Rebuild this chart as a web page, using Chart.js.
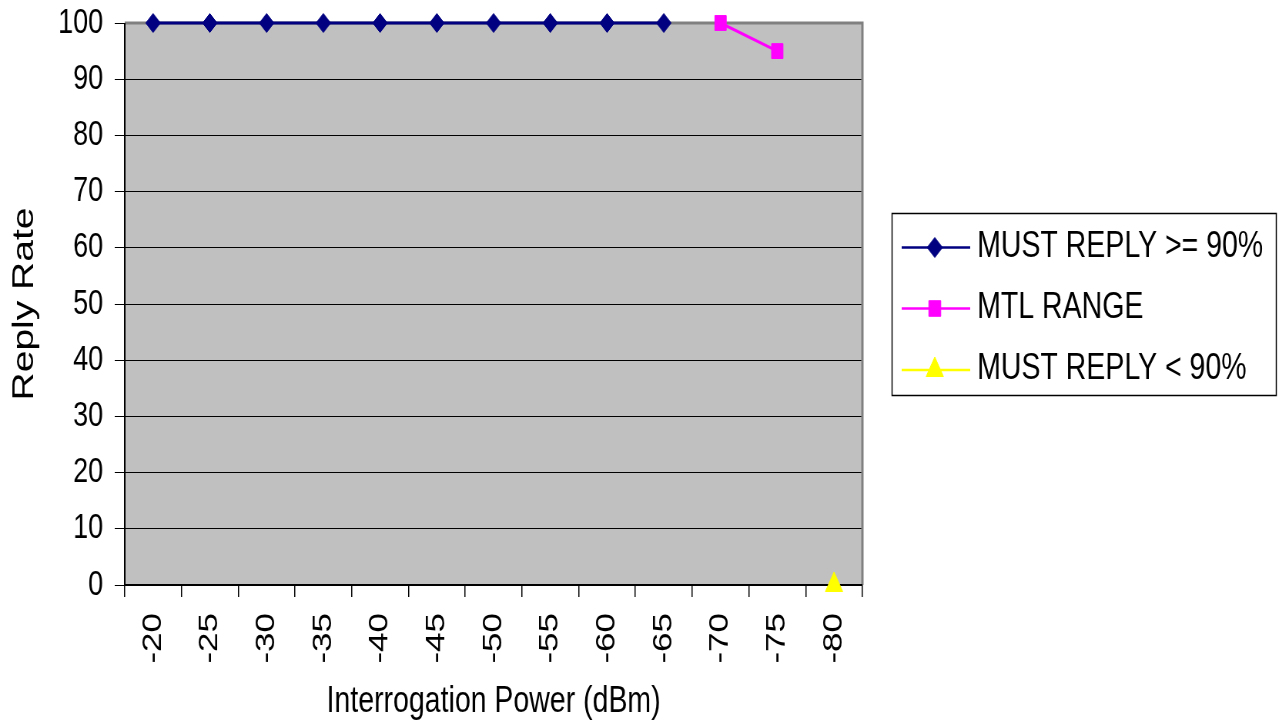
<!DOCTYPE html>
<html>
<head>
<meta charset="utf-8">
<script src="https://cdn.jsdelivr.net/npm/chart.js@4/dist/chart.umd.min.js"></script>
<style>
  html, body { margin: 0; padding: 0; background: #fff; overflow: hidden; width: 1280px; height: 727px; }
  /* the chart is laid out on a wider canvas and condensed horizontally */
  #wrap { position: absolute; left: 0; top: 0; width: 1662px; height: 727px;
          transform: scaleX(0.77); transform-origin: 0 0; }
</style>
</head>
<body>
<div id="wrap"><canvas id="c" width="1662" height="727"></canvas></div>
<script>
// Interrogation power levels (dBm)
const categories = ['-20', '-25', '-30', '-35', '-40', '-45', '-50', '-55', '-60', '-65', '-70', '-75', '-80'];

// Reply rate (%) per power level, split by band
const mustReplyHigh = [100, 100, 100, 100, 100, 100, 100, 100, 100, 100, null, null, null];
const mtlRange      = [null, null, null, null, null, null, null, null, null, null, 100, 95, null];
const mustReplyLow  = [null, null, null, null, null, null, null, null, null, null, null, null, 0];

const seriesNames = ['MUST REPLY >= 90%', 'MTL RANGE', 'MUST REPLY < 90%'];
const seriesColors = ['#000080', '#FF00FF', '#FFFF00'];

// Y axis range
const yMin = 0;
const yMax = 100;
const yStep = 10;

const FONT = "'Liberation Sans', Arial, Helvetica, sans-serif";

// Marker shapes, used in the plot and the legend
const markerStyles = [
  { pointStyle: 'rectRot', radius: 9.5, legendRadius: 10 },
  { pointStyle: 'rect', radius: 10.5, legendRadius: 11 },
  { pointStyle: 'triangle', radius: 13, legendRadius: 13 }
];

function drawMarker(ctx, style, r, x, y, color) {
  ctx.save();
  ctx.fillStyle = color;
  ctx.strokeStyle = color;
  ctx.lineWidth = 1;
  ctx.beginPath();
  if (style === 'rectRot') {
    ctx.moveTo(x - r, y); ctx.lineTo(x, y - r); ctx.lineTo(x + r, y); ctx.lineTo(x, y + r);
  } else if (style === 'rect') {
    const h = r * Math.SQRT1_2;
    ctx.rect(x - h, y - h, 2 * h, 2 * h);
  } else {
    const w = r * Math.sin(Math.PI / 3);
    ctx.moveTo(x, y - r); ctx.lineTo(x + w, y + r / 2); ctx.lineTo(x - w, y + r / 2);
  }
  ctx.closePath();
  ctx.fill();
  ctx.stroke();
  ctx.restore();
}

// Grey plot background and frame
const plotFrame = {
  id: 'plotFrame',
  beforeDraw(chart) {
    const { ctx, chartArea: a } = chart;
    ctx.save();
    ctx.fillStyle = '#C0C0C0';
    ctx.fillRect(a.left, a.top, a.right - a.left, a.bottom - a.top);
    ctx.restore();
  },
  beforeDatasetsDraw(chart) {
    const { ctx, chartArea: a } = chart;
    ctx.save();
    ctx.strokeStyle = '#808080';
    ctx.lineWidth = 3;
    ctx.beginPath();
    ctx.moveTo(a.left, a.top); ctx.lineTo(a.right, a.top); ctx.lineTo(a.right, a.bottom);
    ctx.stroke();
    ctx.strokeStyle = '#000';
    ctx.lineWidth = 2;
    ctx.beginPath();
    ctx.moveTo(a.left, a.top); ctx.lineTo(a.left, a.bottom); ctx.lineTo(a.right, a.bottom);
    ctx.stroke();
    ctx.restore();
  }
};

// Boxed legend on the right: line + marker + label per series
const boxedLegend = {
  id: 'boxedLegend',
  afterDraw(chart) {
    const ctx = chart.ctx;
    const box = { left: 1158.5, top: 213.5, right: 1657.5, bottom: 395.5 };
    ctx.save();
    ctx.strokeStyle = '#000';
    ctx.lineWidth = 1.5;
    ctx.strokeRect(box.left, box.top, box.right - box.left, box.bottom - box.top);
    const rowY = [247.5, 308.5, 370];
    chart.data.datasets.forEach((ds, i) => {
      const y = rowY[i];
      ctx.strokeStyle = ds.borderColor;
      ctx.lineWidth = 2.5;
      ctx.beginPath();
      ctx.moveTo(1171, y); ctx.lineTo(1260, y);
      ctx.stroke();
      drawMarker(ctx, markerStyles[i].pointStyle, markerStyles[i].legendRadius, 1214, y, ds.borderColor);
      ctx.fillStyle = '#000';
      ctx.font = '37px ' + FONT;
      ctx.textAlign = 'left';
      ctx.textBaseline = 'alphabetic';
      ctx.fillText(ds.label, 1269, y + 9);
    });
    ctx.restore();
  }
};

const seriesData = [mustReplyHigh, mtlRange, mustReplyLow];

new Chart(document.getElementById('c'), {
  type: 'line',
  data: {
    labels: categories,
    datasets: seriesData.map((d, i) => ({
      label: seriesNames[i],
      data: d,
      borderColor: seriesColors[i],
      backgroundColor: seriesColors[i],
      borderWidth: 3,
      pointStyle: markerStyles[i].pointStyle,
      pointRadius: markerStyles[i].radius,
      pointBorderWidth: 1,
      pointBackgroundColor: seriesColors[i],
      pointBorderColor: seriesColors[i],
      tension: 0,
      fill: false,
      clip: false
    }))
  },
  options: {
    responsive: false,
    devicePixelRatio: 1,
    animation: false,
    layout: { padding: { top: 23, right: 542, left: 0, bottom: 0 } },
    plugins: {
      legend: { display: false },
      tooltip: { enabled: false }
    },
    scales: {
      x: {
        type: 'category',
        offset: true,
        grid: { offset: true, drawOnChartArea: false, drawTicks: true, tickLength: 12, color: '#000', lineWidth: 1.5 },
        border: { display: false },
        ticks: {
          autoSkip: false, maxRotation: 90, minRotation: 90, padding: 16,
          color: '#000', font: { family: FONT, size: 35 }
        },
        title: {
          display: true, text: 'Interrogation Power (dBm)', color: '#000',
          font: { family: FONT, size: 37, lineHeight: 1.2 },
          padding: { top: 0, bottom: 3 }
        },
        afterFit(scale) { scale.height = 142; scale.paddingLeft = 0; scale.paddingRight = 0; }
      },
      y: {
        min: yMin, max: yMax,
        ticks: { stepSize: yStep, padding: 15, color: '#000', font: { family: FONT, size: 35 } },
        grid: { color: '#000', lineWidth: 1, drawTicks: true, tickLength: 13 },
        border: { display: false },
        title: {
          display: true, text: 'Reply Rate', color: '#000',
          font: { family: FONT, size: 39, lineHeight: 1.2 },
          padding: { top: 9, bottom: 0 }
        },
        afterFit(scale) { scale.width = 162; scale.paddingTop = 0; scale.paddingBottom = 0; }
      }
    }
  },
  plugins: [plotFrame, boxedLegend]
});
</script>
</body>
</html>
